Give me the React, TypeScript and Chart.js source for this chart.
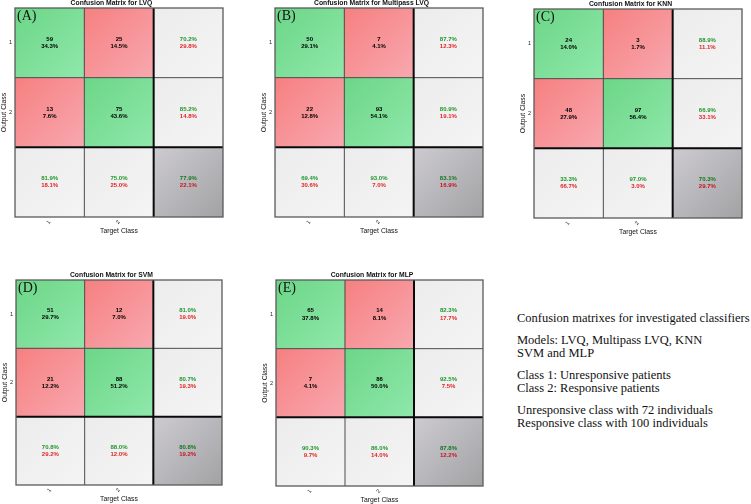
import React, { useEffect, useRef } from "react";
import { Chart, registerables } from "chart.js";

Chart.register(...registerables);

// ---------- data ----------
const classLabels = ["1", "2"];
const targetTickLabels = ["1", "2", ""];
const cellSpan = [1, 1, 1];

const modelTitles = [
  "Confusion Matrix for LVQ",
  "Confusion Matrix for Multipass LVQ",
  "Confusion Matrix for KNN",
  "Confusion Matrix for SVM",
  "Confusion Matrix for MLP",
];
const panelLetters = ["(A)", "(B)", "(C)", "(D)", "(E)"];

// rows = output class, columns = target class
const lvqCounts = [[59, 25], [13, 75]];
const lvqPercents = [[34.3, 14.5], [7.6, 43.6]];
const lvqRowCorrect = [70.2, 85.2];
const lvqRowWrong = [29.8, 14.8];
const lvqColCorrect = [81.9, 75.0];
const lvqColWrong = [18.1, 25.0];
const lvqOverall = [77.9, 22.1];

const mlvqCounts = [[50, 7], [22, 93]];
const mlvqPercents = [[29.1, 4.1], [12.8, 54.1]];
const mlvqRowCorrect = [87.7, 80.9];
const mlvqRowWrong = [12.3, 19.1];
const mlvqColCorrect = [69.4, 93.0];
const mlvqColWrong = [30.6, 7.0];
const mlvqOverall = [83.1, 16.9];

const knnCounts = [[24, 3], [48, 97]];
const knnPercents = [[14.0, 1.7], [27.9, 56.4]];
const knnRowCorrect = [88.9, 66.9];
const knnRowWrong = [11.1, 33.1];
const knnColCorrect = [33.3, 97.0];
const knnColWrong = [66.7, 3.0];
const knnOverall = [70.3, 29.7];

const svmCounts = [[51, 12], [21, 88]];
const svmPercents = [[29.7, 7.0], [12.2, 51.2]];
const svmRowCorrect = [81.0, 80.7];
const svmRowWrong = [19.0, 19.3];
const svmColCorrect = [70.8, 88.0];
const svmColWrong = [29.2, 12.0];
const svmOverall = [80.8, 19.2];

const mlpCounts = [[65, 14], [7, 86]];
const mlpPercents = [[37.8, 8.1], [4.1, 50.0]];
const mlpRowCorrect = [82.3, 92.5];
const mlpRowWrong = [17.7, 7.5];
const mlpColCorrect = [90.3, 86.0];
const mlpColWrong = [9.7, 14.0];
const mlpOverall = [87.8, 12.2];

const noteLines = [
  ["Confusion matrixes for investigated classifiers"],
  ["Models: LVQ, Multipass LVQ, KNN", "SVM and MLP"],
  ["Class 1: Unresponsive patients", "Class 2: Responsive patients"],
  ["Unresponsive class with 72 individuals", "Responsive class with 100 individuals"],
];

// ---------- panel assembly ----------
type Model = {
  counts: number[][];
  percents: number[][];
  rowCorrect: number[];
  rowWrong: number[];
  colCorrect: number[];
  colWrong: number[];
  overall: number[];
};

const models: Model[] = [
  { counts: lvqCounts, percents: lvqPercents, rowCorrect: lvqRowCorrect, rowWrong: lvqRowWrong, colCorrect: lvqColCorrect, colWrong: lvqColWrong, overall: lvqOverall },
  { counts: mlvqCounts, percents: mlvqPercents, rowCorrect: mlvqRowCorrect, rowWrong: mlvqRowWrong, colCorrect: mlvqColCorrect, colWrong: mlvqColWrong, overall: mlvqOverall },
  { counts: knnCounts, percents: knnPercents, rowCorrect: knnRowCorrect, rowWrong: knnRowWrong, colCorrect: knnColCorrect, colWrong: knnColWrong, overall: knnOverall },
  { counts: svmCounts, percents: svmPercents, rowCorrect: svmRowCorrect, rowWrong: svmRowWrong, colCorrect: svmColCorrect, colWrong: svmColWrong, overall: svmOverall },
  { counts: mlpCounts, percents: mlpPercents, rowCorrect: mlpRowCorrect, rowWrong: mlpRowWrong, colCorrect: mlpColCorrect, colWrong: mlpColWrong, overall: mlpOverall },
];

// matrix box placement (left, top, width, height) on the page
const panelBoxes = [
  { x: 15, y: 8, w: 208, h: 209 },
  { x: 275, y: 8, w: 208, h: 209 },
  { x: 534, y: 9, w: 208, h: 209 },
  { x: 16, y: 280, w: 206, h: 205 },
  { x: 276, y: 280, w: 207, h: 206 },
];

const FONT = '"Liberation Sans", Arial, Helvetica, sans-serif';
const Y_AXIS_W = 15;
const X_AXIS_H = 18;
const TITLE_H = 9; // 8px line + 1px padding
const PAD = { left: 0, top: 1, right: 2, bottom: 2 };

const GREEN_TXT = "#1f962a";
const RED_TXT = "#e22424";
const GREEN_DARK = "#14781c";
const RED_DARK = "#c8141c";

const fmt = (v: number) => v.toFixed(1) + "%";

function cellKind(row: number, col: number) {
  if (row === 2 && col === 2) return "corner";
  if (row === 2 || col === 2) return "summary";
  return row === col ? "diag" : "off";
}

const gradStops: Record<string, [string, string]> = {
  diag: ["#6cd687", "#8fe8ab"],
  off: ["#f68080", "#f8a8b0"],
  summary: ["#ececec", "#f4f4f4"],
  corner: ["#cdcbd1", "#a2a2a4"],
};

function makeGridPlugin() {
  return {
    id: "cmGrid",
    afterDatasetsDraw(chart: any) {
      const xs = chart.scales.x;
      const ys = chart.scales.y;
      const a = chart.chartArea;
      const ctx = chart.ctx;
      const step = xs.getPixelForValue(1) - xs.getPixelForValue(0);
      const xb = (k: number) => xs.getPixelForValue(k) - step / 2;
      const yb = (v: number) => ys.getPixelForValue(v);
      ctx.save();
      ctx.strokeStyle = "#4c4c4c";
      ctx.lineWidth = 1;
      ctx.beginPath();
      ctx.moveTo(xb(1), a.top);
      ctx.lineTo(xb(1), a.bottom);
      ctx.moveTo(a.left, yb(2));
      ctx.lineTo(a.right, yb(2));
      ctx.stroke();
      ctx.strokeStyle = "#0a0a0a";
      ctx.lineWidth = 2;
      ctx.beginPath();
      ctx.moveTo(xb(2), a.top);
      ctx.lineTo(xb(2), a.bottom);
      ctx.moveTo(a.left, yb(1));
      ctx.lineTo(a.right, yb(1));
      ctx.stroke();
      ctx.strokeStyle = "#5a5a5a";
      ctx.lineWidth = 1.3;
      ctx.strokeRect(a.left, a.top, a.right - a.left, a.bottom - a.top);
      ctx.restore();
    },
  };
}

function makeTextPlugin(m: Model, letter: string) {
  return {
    id: "cmText",
    afterDatasetsDraw(chart: any) {
      const ctx = chart.ctx;
      ctx.save();
      ctx.textAlign = "center";
      ctx.textBaseline = "middle";
      ctx.font = `bold 6px ${FONT}`;
      chart.data.datasets.forEach((_ds: any, d: number) => {
        const meta = chart.getDatasetMeta(d);
        const row = 2 - d;
        meta.data.forEach((el: any, col: number) => {
          const cx = el.x;
          const cy = (el.y + el.base) / 2;
          const kind = cellKind(row, col);
          let l1 = "", l2 = "", c1 = "#000", c2 = "#000";
          if (kind === "diag" || kind === "off") {
            l1 = String(m.counts[row][col]);
            l2 = fmt(m.percents[row][col]);
          } else if (kind === "summary" && col === 2) {
            l1 = fmt(m.rowCorrect[row]);
            l2 = fmt(m.rowWrong[row]);
            c1 = GREEN_TXT;
            c2 = RED_TXT;
          } else if (kind === "summary") {
            l1 = fmt(m.colCorrect[col]);
            l2 = fmt(m.colWrong[col]);
            c1 = GREEN_TXT;
            c2 = RED_TXT;
          } else {
            l1 = fmt(m.overall[0]);
            l2 = fmt(m.overall[1]);
            c1 = GREEN_DARK;
            c2 = RED_DARK;
          }
          ctx.fillStyle = c1;
          ctx.fillText(l1, cx, cy - 3.6);
          ctx.fillStyle = c2;
          ctx.fillText(l2, cx, cy + 3.6);
        });
      });
      ctx.font = '14px "Liberation Serif", "Times New Roman", serif';
      ctx.textAlign = "left";
      ctx.textBaseline = "top";
      ctx.fillStyle = "#111";
      ctx.fillText(letter, chart.chartArea.left + 2, chart.chartArea.top + 1);
      ctx.restore();
    },
  };
}

function Panel({ idx }: { idx: number }) {
  const ref = useRef<HTMLCanvasElement>(null);
  const box = panelBoxes[idx];
  const W = PAD.left + Y_AXIS_W + box.w + PAD.right;
  const H = PAD.top + TITLE_H + box.h + X_AXIS_H + PAD.bottom;
  const left = box.x - Y_AXIS_W - PAD.left;
  const top = box.y - TITLE_H - PAD.top;

  useEffect(() => {
    const m = models[idx];
    const bg = (ctx: any) => {
      const chart = ctx.chart;
      const row = 2 - ctx.datasetIndex;
      const col = ctx.dataIndex;
      const kind = cellKind(row, col);
      const [s0, s1] = gradStops[kind];
      const xs = chart.scales?.x;
      const ys = chart.scales?.y;
      if (!chart.chartArea || !xs || !ys) return s0;
      const step = xs.getPixelForValue(1) - xs.getPixelForValue(0);
      const cx = xs.getPixelForValue(col);
      const l = cx - step / 2;
      const r = cx + step / 2;
      const t = ys.getPixelForValue(ctx.datasetIndex + 1);
      const b = ys.getPixelForValue(ctx.datasetIndex);
      if (!isFinite(l) || !isFinite(t)) return s0;
      const g = chart.ctx.createLinearGradient(l, t, r, b);
      g.addColorStop(0, s0);
      g.addColorStop(1, s1);
      return g;
    };
    // datasets stacked from bottom: summary row, output class 2, output class 1
    const datasets = ["summary", classLabels[1], classLabels[0]].map((name) => ({
      label: name,
      data: cellSpan,
      backgroundColor: bg,
      borderWidth: 0,
      barPercentage: 1,
      categoryPercentage: 1,
      inflateAmount: 0.5,
    }));
    const chart = new Chart(ref.current as HTMLCanvasElement, {
      type: "bar",
      data: { labels: targetTickLabels, datasets },
      options: {
        animation: false,
        responsive: false,
        layout: { padding: PAD },
        plugins: {
          legend: { display: false },
          tooltip: { enabled: false },
          title: {
            display: true,
            text: modelTitles[idx],
            color: "#111",
            font: { family: FONT, size: 6.8, weight: "bold", lineHeight: "8px" },
            padding: { top: 0, bottom: 1 },
          },
        },
        scales: {
          x: {
            stacked: true,
            grid: { display: false, drawTicks: false },
            border: { display: false },
            ticks: {
              color: "#222",
              font: { family: FONT, size: 5.5 },
              autoSkip: false,
              minRotation: 50,
              maxRotation: 50,
              padding: 2,
            },
            title: {
              display: true,
              text: "Target Class",
              color: "#111",
              font: { family: FONT, size: 6.8 },
              padding: { top: 0, bottom: 0 },
            },
            afterFit: (s: any) => {
              s.height = X_AXIS_H;
            },
          },
          y: {
            stacked: true,
            min: 0,
            max: 3,
            grid: { display: false, drawTicks: false },
            border: { display: false },
            afterBuildTicks: (s: any) => {
              s.ticks = [{ value: 1.5 }, { value: 2.5 }];
            },
            ticks: {
              color: "#222",
              font: { family: FONT, size: 5.5 },
              autoSkip: false,
              padding: 3,
              callback: (v: any) => (v > 2 ? classLabels[0] : classLabels[1]),
            },
            title: {
              display: true,
              text: "Output Class",
              color: "#111",
              font: { family: FONT, size: 6.8 },
              padding: { top: 0, bottom: 0 },
            },
            afterFit: (s: any) => {
              s.width = Y_AXIS_W;
            },
          },
        },
      } as any,
      plugins: [makeGridPlugin(), makeTextPlugin(m, panelLetters[idx])],
    });
    return () => chart.destroy();
  }, [idx]);

  return (
    <canvas
      ref={ref}
      width={W}
      height={H}
      style={{ position: "absolute", left, top, width: W + "px", height: H + "px" }}
    />
  );
}

export default function App() {
  return (
    <div
      style={{
        position: "fixed",
        left: 0,
        top: 0,
        width: 751,
        height: 504,
        background: "#fff",
        overflow: "hidden",
      }}
    >
      {models.map((_m, i) => (
        <Panel key={i} idx={i} />
      ))}
      <div
        style={{
          position: "absolute",
          left: 517,
          top: 312,
          fontFamily: '"Liberation Serif", "Times New Roman", serif',
          fontSize: "12.5px",
          lineHeight: "13.5px",
          color: "#111",
          whiteSpace: "nowrap",
        }}
      >
        {noteLines.map((para, i) => (
          <div key={i} style={{ marginBottom: i < noteLines.length - 1 ? "8px" : 0 }}>
            {para.map((line, j) => (
              <div key={j}>{line}</div>
            ))}
          </div>
        ))}
      </div>
    </div>
  );
}
